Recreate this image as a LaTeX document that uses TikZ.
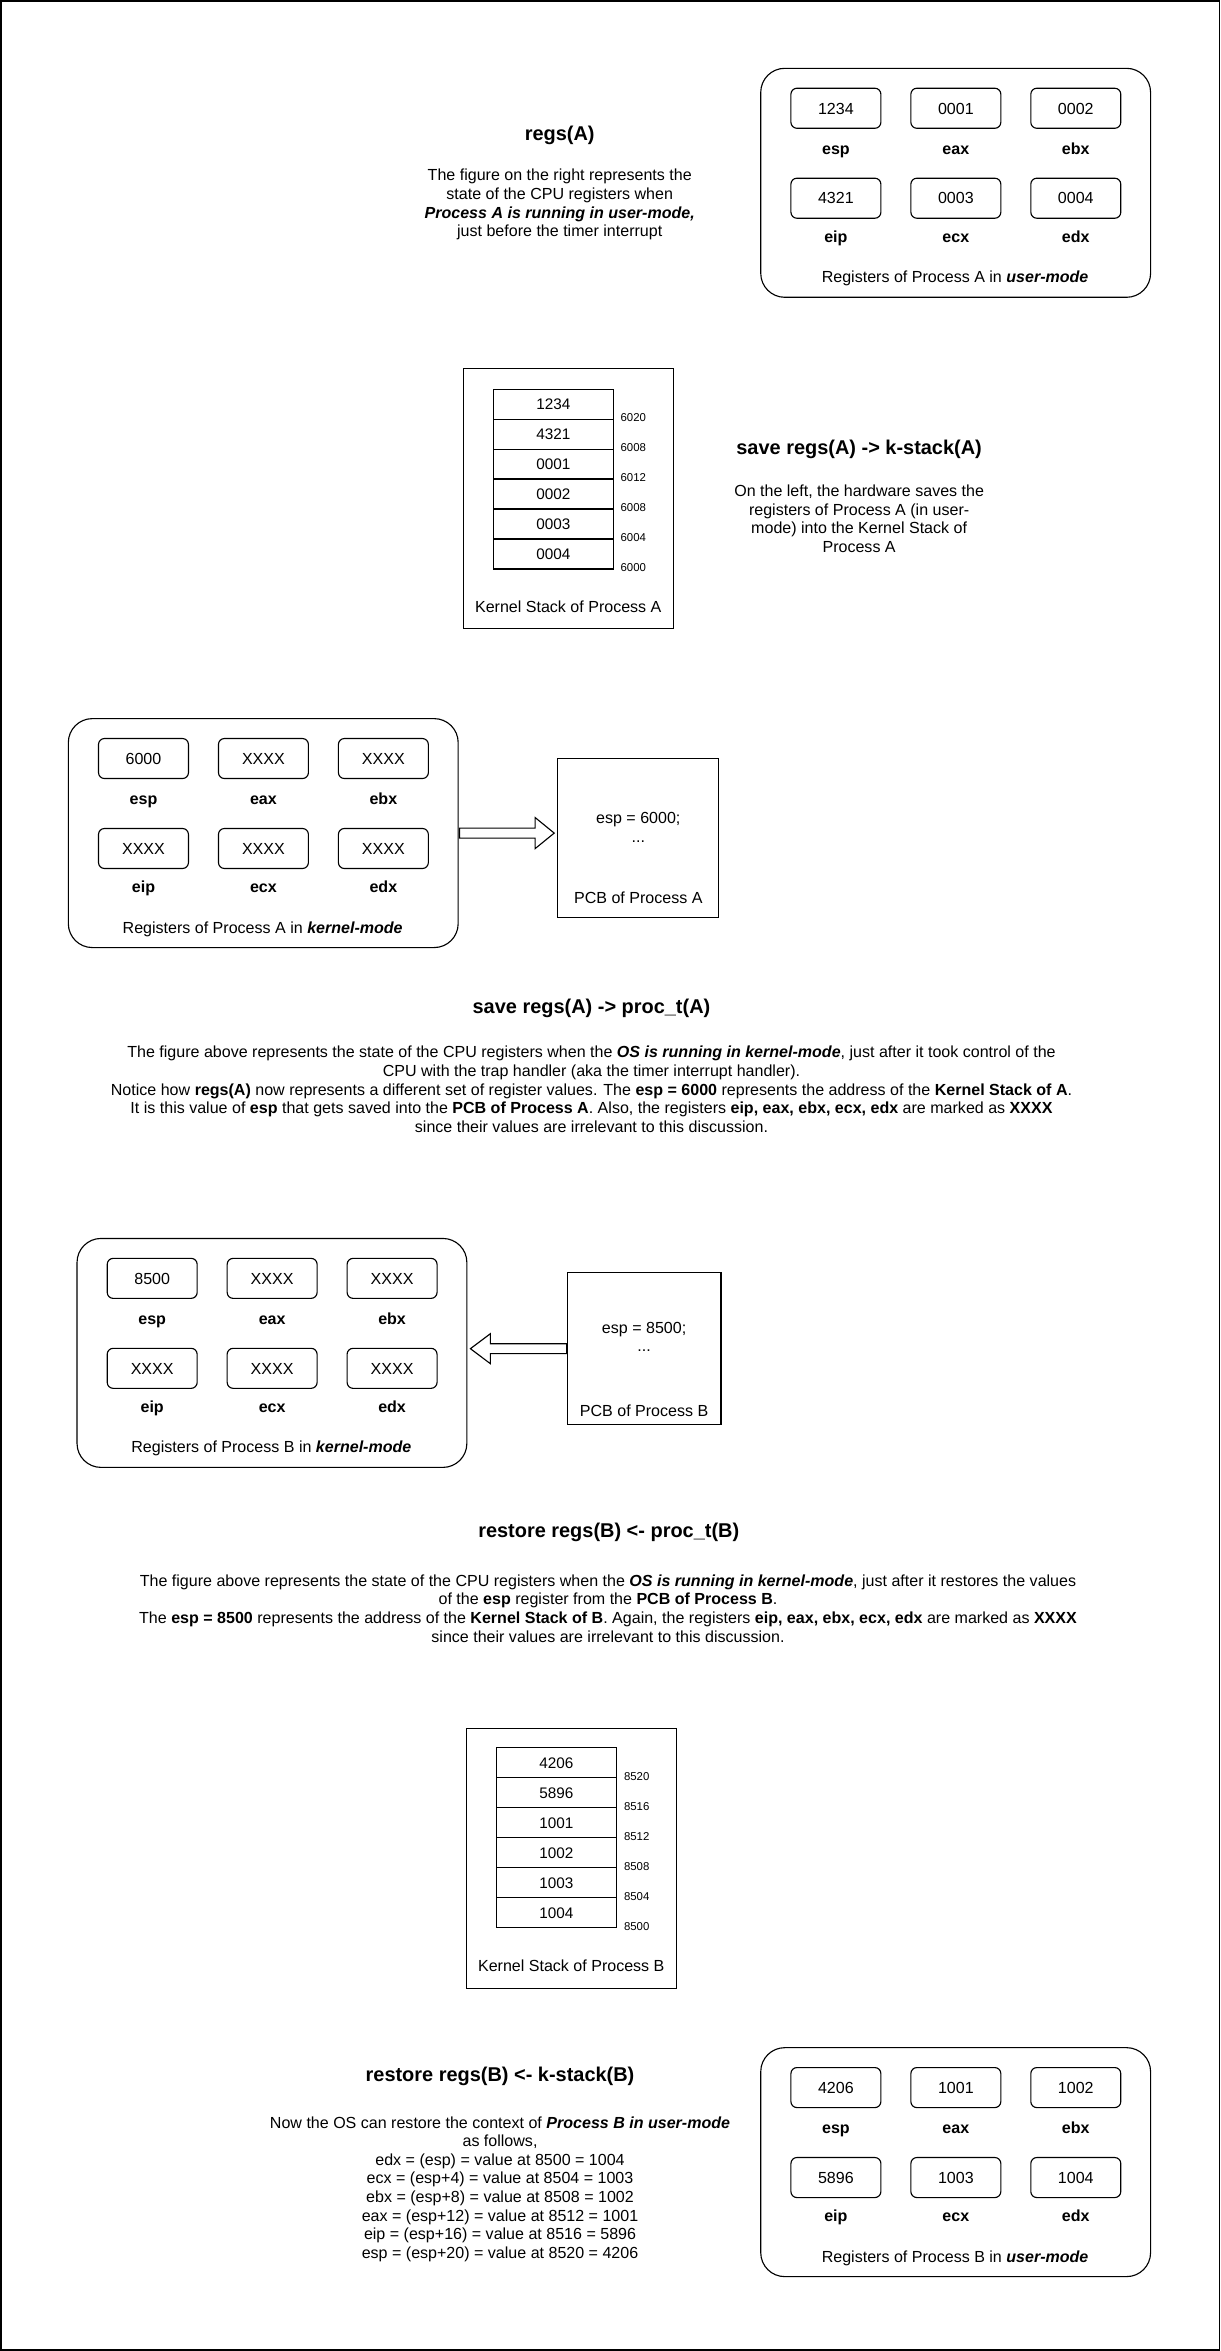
\documentclass[tikz,border=0pt]{standalone}
\usepackage{fontspec}
\setmainfont{Liberation Sans}
\usetikzlibrary{calc}
\newcommand{\bodyfont}{\fontsize{10.7}{12.4}\selectfont}
\newcommand{\headfont}{\fontsize{13.3}{16}\selectfont\bfseries}
\newcommand{\addrfont}{\fontsize{7.6}{9}\selectfont}
\newcommand{\cellfont}{\fontsize{10.2}{12}\selectfont}
\newcommand{\bi}[1]{\textbf{\textit{#1}}}
\tikzset{
  panel/.style={draw, line width=0.75pt, rounded corners=16pt, minimum width=260pt, minimum height=152.7pt, inner sep=0pt},
  regbox/.style={draw, line width=0.75pt, rounded corners=4pt, minimum width=60pt, minimum height=26.7pt, inner sep=0pt, font=\bodyfont, text height=7.7pt, text depth=0pt},
  reglabel/.style={font=\bodyfont\bfseries, inner sep=0pt, text height=7.7pt, text depth=0pt},
  oneline/.style={font=\bodyfont, inner sep=0pt, text height=7.7pt, text depth=0pt},
  txt/.style={font=\bodyfont, align=center, inner sep=0pt},
  head/.style={font=\headfont, inner sep=0pt},
  cell/.style={draw, line width=0.75pt, minimum width=80pt, minimum height=20pt, inner sep=0pt, font=\cellfont, text height=7.3pt, text depth=0pt},
  addr/.style={font=\addrfont, anchor=west, inner sep=0pt, text height=5.4pt, text depth=0pt},
  plainbox/.style={draw, line width=0.75pt, inner sep=0pt},
  blockarrow/.style={draw, line width=0.75pt, fill=white, line join=miter},
}
% #1 name, #2 x, #3 y (top-left), #4..#9 values esp eax ebx eip ecx edx
\newcommand{\regpanel}[9]{%
  \node[panel, anchor=north west] (#1) at (#2,#3) {};
  \node[regbox] (#1vesp) at ($(#1.north west)+(50.5,27)$) {#4};
  \node[regbox] (#1veax) at ($(#1.north west)+(130.5,27)$) {#5};
  \node[regbox] (#1vebx) at ($(#1.north west)+(210.5,27)$) {#6};
  \node[regbox] (#1veip) at ($(#1.north west)+(50.5,87)$) {#7};
  \node[regbox] (#1vecx) at ($(#1.north west)+(130.5,87)$) {#8};
  \node[regbox] (#1vedx) at ($(#1.north west)+(210.5,87)$) {#9};
  \node[reglabel] (#1lesp) at ($(#1.north west)+(50.5,53.7)$) {esp};
  \node[reglabel] (#1leax) at ($(#1.north west)+(130.5,53.7)$) {eax};
  \node[reglabel] (#1lebx) at ($(#1.north west)+(210.5,53.7)$) {ebx};
  \node[reglabel] (#1leip) at ($(#1.north west)+(50.5,112.5)$) {eip};
  \node[reglabel] (#1lecx) at ($(#1.north west)+(130.5,112.5)$) {ecx};
  \node[reglabel] (#1ledx) at ($(#1.north west)+(210.5,112.5)$) {edx};
}
\begin{document}
\begin{tikzpicture}[x=1pt,y=-1pt]
\useasboundingbox (0,0) rectangle (814,1568);
\draw[line width=1.3pt] (0.65,0.65) rectangle (813.35,1567.35);

% ---------- Section 1: regs(A) ----------
\node[head] (h1) at (373.3,90) {regs(A)};
\node[txt] (p1) at (373.3,136.5) {The figure on the right represents the\\state of the CPU registers when\\\bi{Process A is running in user-mode,}\\just before the timer interrupt};
\regpanel{regUA}{507}{45.2}{1234}{0001}{0002}{4321}{0003}{0004}
\node[oneline] (regUAcap) at ($(regUA.north west)+(130,139.6)$) {Registers of Process A in \bi{user-mode}};

% ---------- Section 2: kernel stack A ----------
\node[plainbox, minimum width=140pt, minimum height=173.5pt, anchor=north west] (ksA) at (309,245.5) {};
\foreach \v [count=\i] in {1234,4321,0001,0002,0003,0004} {
  \node[cell] (sA\i) at (369,249.5+20*\i) {\v};
}
\foreach \a [count=\i] in {6020,6008,6012,6008,6004,6000} {
  \node[addr] (aA\i) at (413.7,258.5+20*\i) {\a};
}
\node[oneline] (ksAcap) at (379,404.4) {Kernel Stack of Process A};
\node[head] (h2) at (573,299.6) {save regs(A) -> k-stack(A)};
\node[txt] (p2) at (573,346) {On the left, the hardware saves the\\registers of Process A (in user-\\mode) into the Kernel Stack of\\Process A};

% ---------- Section 3: regs(A) kernel + PCB A ----------
\regpanel{regKA}{45.2}{478.9}{6000}{XXXX}{XXXX}{XXXX}{XXXX}{XXXX}
\node[oneline] (regKAcap) at ($(regKA.north west)+(130,139.6)$) {Registers of Process A in \bi{kernel-mode}};
\node[plainbox, minimum width=107.4pt, minimum height=106.6pt] (pcbA) at (425.7,558.9) {};
\node[txt] (pcbAtxt) at (425.7,551.7) {esp = 6000;\\...};
\node[oneline] (pcbAcap) at (425.7,598.9) {PCB of Process A};
\coordinate (tipA) at ($(regKA.east -| pcbA.west)+(-2,0)$);
\draw[blockarrow] ($(regKA.east)+(0.5,-3.35)$) -- ($(tipA)+(-12.7,-3.35)$) -- ($(tipA)+(-12.7,-10.35)$) -- (tipA) -- ($(tipA)+(-12.7,10.35)$) -- ($(tipA)+(-12.7,3.35)$) -- ($(regKA.east)+(0.5,3.35)$) -- cycle;

% ---------- Section 4 text ----------
\node[head] (h3) at (394.5,672.5) {save regs(A) -> proc\_t(A)};
\node[txt] (p3) at (394.5,726.5) {The figure above represents the state of the CPU registers when the \bi{OS is running in kernel-mode}, just after it took control of the\\CPU with the trap handler (aka the timer interrupt handler).\\Notice how \textbf{regs(A)} now represents a different set of register values. The \textbf{esp = 6000} represents the address of the \textbf{Kernel Stack of A}.\\It is this value of \textbf{esp} that gets saved into the \textbf{PCB of Process A}. Also, the registers \textbf{eip, eax, ebx, ecx, edx} are marked as \textbf{XXXX}\\since their values are irrelevant to this discussion.};

% ---------- Section 5: regs(B) kernel + PCB B ----------
\regpanel{regKB}{51}{825.6}{8500}{XXXX}{XXXX}{XXXX}{XXXX}{XXXX}
\node[oneline] (regKBcap) at ($(regKB.north west)+(130,139.6)$) {Registers of Process B in \bi{kernel-mode}};
\node[plainbox, minimum width=102.6pt, minimum height=101.1pt] (pcbB) at (429.6,899.5) {};
\node[txt] (pcbBtxt) at (429.6,891.7) {esp = 8500;\\...};
\node[oneline] (pcbBcap) at (429.6,941.1) {PCB of Process B};
\coordinate (tipB) at ($(pcbB.west -| regKB.east)+(2,0)$);
\draw[blockarrow] ($(pcbB.west)+(0,-3.3)$) -- ($(tipB)+(13.3,-3.3)$) -- ($(tipB)+(13.3,-10)$) -- (tipB) -- ($(tipB)+(13.3,10)$) -- ($(tipB)+(13.3,3.3)$) -- ($(pcbB.west)+(0,3.3)$) -- cycle;

% ---------- Section 6 text ----------
\node[head] (h4) at (406,1022.2) {restore regs(B) <- proc\_t(B)};
\node[txt] (p4) at (405.5,1072.8) {The figure above represents the state of the CPU registers when the \bi{OS is running in kernel-mode}, just after it restores the values\\of the \textbf{esp} register from the \textbf{PCB of Process B}.\\The \textbf{esp = 8500} represents the address of the \textbf{Kernel Stack of B}. Again, the registers \textbf{eip, eax, ebx, ecx, edx} are marked as \textbf{XXXX}\\since their values are irrelevant to this discussion.};

% ---------- Section 7: kernel stack B ----------
\node[plainbox, minimum width=140pt, minimum height=173.5pt, anchor=north west] (ksB) at (311,1152.5) {};
\foreach \v [count=\i] in {4206,5896,1001,1002,1003,1004} {
  \node[cell] (sB\i) at (371,1155.6+20*\i) {\v};
}
\foreach \a [count=\i] in {8520,8516,8512,8508,8504,8500} {
  \node[addr] (aB\i) at (416,1164.6+20*\i) {\a};
}
\node[oneline] (ksBcap) at (381,1311.1) {Kernel Stack of Process B};

% ---------- Section 8 ----------
\node[head] (h5) at (333.5,1384.5) {restore regs(B) <- k-stack(B)};
\node[txt] (p5) at (333.5,1460) {Now the OS can restore the context of \bi{Process B in user-mode}\\as follows,\\edx = (esp) = value at 8500 = 1004\\ecx = (esp+4) = value at 8504 = 1003\\ebx = (esp+8) = value at 8508 = 1002\\eax = (esp+12) = value at 8512 = 1001\\eip = (esp+16) = value at 8516 = 5896\\esp = (esp+20) = value at 8520 = 4206};
\regpanel{regUB}{507}{1365.3}{4206}{1001}{1002}{5896}{1003}{1004}
\node[oneline] (regUBcap) at ($(regUB.north west)+(130,139.6)$) {Registers of Process B in \bi{user-mode}};
\end{tikzpicture}
\end{document}
